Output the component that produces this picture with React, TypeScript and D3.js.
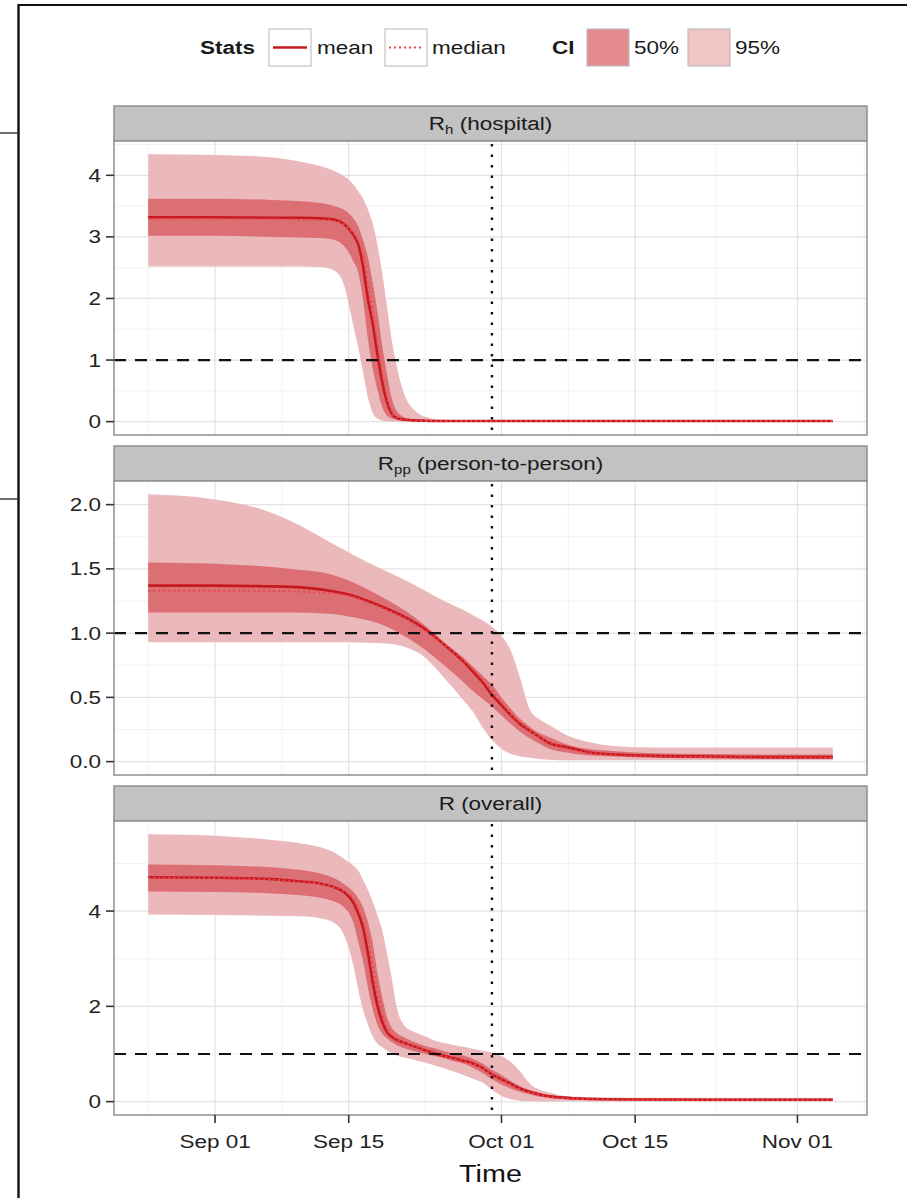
import React from "react";
import * as d3 from "d3";

// ---------- data ----------
const ORIGIN = Date.UTC(2014, 8, 1); // Sep 01
const toDate = (d: number) => new Date(ORIGIN + d * 864e5);

const xTickDays = [0, 14, 30, 44, 61];
const xTickLabels = ["Sep 01", "Sep 15", "Oct 01", "Oct 15", "Nov 01"];
const xMinorDays = [-7, 7, 22, 37, 52.5, 68];
const vlineDay = 29;
const hlineValue = 1;

// Panel 1: R_h (hospital)
const rhDays = [-7, 0, 6, 9, 11, 12.5, 13.5, 14.5, 15, 15.5, 16, 16.5, 17, 17.5, 18, 18.5, 19, 19.5, 20, 21, 22, 24, 28, 35, 50, 64.7];
const rhHi95 = [4.34, 4.33, 4.29, 4.22, 4.15, 4.07, 3.99, 3.85, 3.74, 3.62, 3.45, 3.22, 2.88, 2.42, 1.88, 1.33, 0.92, 0.6, 0.38, 0.17, 0.08, 0.03, 0.015, 0.01, 0.01, 0.01];
const rhLo95 = [2.52, 2.52, 2.52, 2.52, 2.51, 2.45, 2.22, 1.55, 1.2, 0.8, 0.4, 0.15, 0.05, 0.02, 0.005, 0, 0, 0, 0, 0, 0, 0, 0, 0, 0, 0];
const rhHi50 = [3.62, 3.62, 3.6, 3.58, 3.55, 3.5, 3.44, 3.3, 3.17, 2.95, 2.68, 2.27, 1.8, 1.25, 0.78, 0.38, 0.18, 0.1, 0.06, 0.03, 0.02, 0.015, 0.01, 0.01, 0.01, 0.01];
const rhLo50 = [3.02, 3.02, 3.0, 2.99, 2.98, 2.95, 2.85, 2.6, 2.42, 1.97, 1.35, 0.88, 0.52, 0.24, 0.1, 0.05, 0.03, 0.02, 0.01, 0.005, 0.005, 0.005, 0.005, 0.005, 0.005, 0.005];
const rhMean = [3.32, 3.32, 3.31, 3.31, 3.3, 3.28, 3.21, 3.03, 2.88, 2.52, 2.0, 1.6, 1.1, 0.65, 0.32, 0.13, 0.06, 0.04, 0.03, 0.02, 0.015, 0.01, 0.01, 0.01, 0.01, 0.01];
const rhMedian = [3.29, 3.29, 3.29, 3.28, 3.28, 3.26, 3.2, 3.05, 2.93, 2.7, 2.25, 1.8, 1.3, 0.8, 0.4, 0.15, 0.06, 0.03, 0.02, 0.01, 0.01, 0.01, 0.01, 0.01, 0.01, 0.01];

// Panel 2: R_pp (person-to-person)
const rppDays = [-7, 0, 5, 8, 12, 14, 16, 18, 20, 22, 24, 26, 27, 28, 29, 30, 31, 32, 33, 34, 35, 37, 39, 42, 46, 52, 58, 64.7];
const rppHi95 = [2.08, 2.04, 1.96, 1.87, 1.71, 1.63, 1.55, 1.48, 1.41, 1.33, 1.25, 1.18, 1.14, 1.1, 1.05, 0.98, 0.86, 0.64, 0.4, 0.33, 0.285, 0.2, 0.155, 0.12, 0.11, 0.11, 0.11, 0.11];
const rppLo95 = [0.93, 0.93, 0.93, 0.93, 0.93, 0.93, 0.925, 0.92, 0.89, 0.81, 0.65, 0.48, 0.39, 0.27, 0.17, 0.1, 0.06, 0.04, 0.03, 0.02, 0.015, 0.01, 0.01, 0.01, 0.01, 0.01, 0.01, 0.01];
const rppHi50 = [1.55, 1.54, 1.52, 1.5, 1.46, 1.41, 1.34, 1.26, 1.17, 1.06, 0.93, 0.81, 0.74, 0.67, 0.6, 0.5, 0.41, 0.33, 0.27, 0.22, 0.19, 0.13, 0.1, 0.08, 0.065, 0.06, 0.055, 0.055];
const rppLo50 = [1.16, 1.16, 1.16, 1.16, 1.15, 1.13, 1.1, 1.05, 0.97, 0.87, 0.75, 0.62, 0.55, 0.49, 0.43, 0.36, 0.29, 0.23, 0.18, 0.14, 0.1, 0.07, 0.05, 0.04, 0.03, 0.025, 0.02, 0.02];
const rppMean = [1.37, 1.37, 1.365, 1.36, 1.33, 1.3, 1.25, 1.19, 1.12, 1.03, 0.91, 0.78, 0.7, 0.62, 0.52, 0.44, 0.36, 0.29, 0.24, 0.19, 0.145, 0.11, 0.075, 0.055, 0.045, 0.04, 0.035, 0.035];
const rppMedian = [1.33, 1.33, 1.33, 1.325, 1.31, 1.29, 1.24, 1.18, 1.11, 1.02, 0.91, 0.79, 0.72, 0.64, 0.55, 0.46, 0.37, 0.3, 0.24, 0.19, 0.15, 0.1, 0.07, 0.05, 0.04, 0.035, 0.03, 0.03];

// Panel 3: R (overall)
const rDays = [-7, 0, 6, 9, 11, 12.5, 13.5, 14.5, 15, 15.5, 16, 16.5, 17, 17.5, 18, 18.5, 19, 20, 21, 22, 23, 24, 25, 26, 27, 28, 29, 30, 31, 32, 33, 34, 35, 36, 38, 41, 45, 52, 64.7];
const rHi95 = [5.61, 5.58, 5.49, 5.42, 5.34, 5.23, 5.1, 4.95, 4.85, 4.65, 4.45, 4.2, 3.92, 3.6, 3.12, 2.6, 2.0, 1.56, 1.45, 1.37, 1.28, 1.23, 1.19, 1.15, 1.11, 1.07, 1.03, 0.96, 0.83, 0.62, 0.37, 0.25, 0.19, 0.14, 0.1, 0.085, 0.08, 0.08, 0.08];
const rLo95 = [3.93, 3.92, 3.9, 3.89, 3.85, 3.75, 3.5, 2.85, 2.35, 1.93, 1.62, 1.37, 1.22, 1.14, 1.07, 1.02, 0.97, 0.92, 0.87, 0.82, 0.76, 0.7, 0.63, 0.56, 0.48, 0.4, 0.25, 0.12, 0.05, 0.02, 0.01, 0.01, 0.01, 0.01, 0.01, 0.01, 0.01, 0.01, 0.01];
const rHi50 = [4.98, 4.96, 4.92, 4.86, 4.79, 4.69, 4.57, 4.4, 4.27, 4.08, 3.78, 3.35, 2.71, 2.2, 1.78, 1.55, 1.44, 1.33, 1.24, 1.17, 1.12, 1.06, 1.01, 0.97, 0.9, 0.8, 0.67, 0.56, 0.43, 0.32, 0.24, 0.18, 0.14, 0.12, 0.09, 0.07, 0.06, 0.06, 0.06];
const rLo50 = [4.41, 4.4, 4.37, 4.33, 4.28, 4.2, 4.08, 3.75, 3.35, 2.95, 2.4, 1.95, 1.62, 1.43, 1.33, 1.25, 1.19, 1.11, 1.05, 1.0, 0.96, 0.91, 0.85, 0.8, 0.71, 0.6, 0.47, 0.36, 0.27, 0.2, 0.15, 0.1, 0.08, 0.06, 0.045, 0.035, 0.03, 0.025, 0.025];
const rMean = [4.71, 4.7, 4.67, 4.62, 4.58, 4.5, 4.4, 4.17, 3.95, 3.65, 3.13, 2.52, 2.02, 1.68, 1.46, 1.36, 1.3, 1.22, 1.15, 1.08, 1.01, 0.96, 0.91, 0.86, 0.8, 0.71, 0.57, 0.47, 0.37, 0.27, 0.2, 0.15, 0.11, 0.09, 0.065, 0.05, 0.045, 0.04, 0.04];
const rMedian = [4.7, 4.69, 4.66, 4.61, 4.57, 4.5, 4.42, 4.25, 4.05, 3.8, 3.4, 2.85, 2.3, 1.85, 1.55, 1.4, 1.32, 1.22, 1.15, 1.08, 1.0, 0.95, 0.9, 0.85, 0.79, 0.7, 0.56, 0.46, 0.36, 0.26, 0.19, 0.14, 0.1, 0.08, 0.06, 0.045, 0.04, 0.035, 0.035];

const y1Ticks = [0, 1, 2, 3, 4];
const y1Labels = ["0", "1", "2", "3", "4"];
const y1Minor = [0.5, 1.5, 2.5, 3.5, 4.5];
const y2Ticks = [0, 0.5, 1, 1.5, 2];
const y2Labels = ["0.0", "0.5", "1.0", "1.5", "2.0"];
const y2Minor = [0.25, 0.75, 1.25, 1.75];
const y3Ticks = [0, 2, 4];
const y3Labels = ["0", "2", "4"];
const y3Minor = [1, 3, 5];

const legendStats = ["mean", "median"];
const legendCI = ["50%", "95%"];

// ---------- style ----------
const FONT = "Liberation Sans, Arial, Helvetica, sans-serif";
const SX = 1.25;
const C95 = "#ebb8bb";
const C50 = "#dc6f74";
const CMEAN = "#c8181f";
const CMED = "#e8474c";
const PANEL_BORDER = "#8f8f8f";
const STRIP_FILL = "#c2c2c2";
const GRID_MAJOR = "#e2e2e2";
const GRID_MINOR = "#f1f1f1";

const W = 907;
const H = 1198;
const PL = 114;
const PR = 867;
const STRIP_H = 35;
const PLOT_H = 294;
const PANEL_STEP = 340;
const TOP0 = 106;

type PanelDef = {
  key: string;
  title: React.ReactNode;
  days: number[];
  hi95: number[];
  lo95: number[];
  hi50: number[];
  lo50: number[];
  mean: number[];
  median: number[];
  ticks: number[];
  labels: string[];
  minor: number[];
};

const panels: PanelDef[] = [
  {
    key: "rh",
    title: (
      <>
        R<tspan fontSize="12" dy="4">h</tspan>
        <tspan dy="-4"> (hospital)</tspan>
      </>
    ),
    days: rhDays, hi95: rhHi95, lo95: rhLo95, hi50: rhHi50, lo50: rhLo50, mean: rhMean, median: rhMedian,
    ticks: y1Ticks, labels: y1Labels, minor: y1Minor,
  },
  {
    key: "rpp",
    title: (
      <>
        R<tspan fontSize="12" dy="4">pp</tspan>
        <tspan dy="-4"> (person-to-person)</tspan>
      </>
    ),
    days: rppDays, hi95: rppHi95, lo95: rppLo95, hi50: rppHi50, lo50: rppLo50, mean: rppMean, median: rppMedian,
    ticks: y2Ticks, labels: y2Labels, minor: y2Minor,
  },
  {
    key: "r",
    title: <>R (overall)</>,
    days: rDays, hi95: rHi95, lo95: rLo95, hi50: rHi50, lo50: rLo50, mean: rMean, median: rMedian,
    ticks: y3Ticks, labels: y3Labels, minor: y3Minor,
  },
];

// x scale shared (5% expansion of data range)
const allDays = [...rhDays, ...rppDays, ...rDays];
const dMin = d3.min(allDays) as number;
const dMax = d3.max(allDays) as number;
const dPad = (dMax - dMin) * 0.05;
const x = d3.scaleUtc().domain([toDate(dMin - dPad), toDate(dMax + dPad)]).range([PL, PR]);

function T(props: {
  x: number; y: number; size: number; anchor?: string; weight?: string | number; fill?: string; children: React.ReactNode;
}) {
  const { x: tx, y: ty, size, anchor = "start", weight = "normal", fill = "#1a1a1a", children } = props;
  return (
    <text
      transform={`translate(${tx},${ty}) scale(${SX},1)`}
      textAnchor={anchor as any}
      fontSize={size}
      fontWeight={weight}
      fontFamily={FONT}
      fill={fill}
    >
      {children}
    </text>
  );
}

function Panel({ p, index }: { p: PanelDef; index: number }) {
  const top = TOP0 + index * PANEL_STEP;
  const pTop = top + STRIP_H;
  const pBot = pTop + PLOT_H;
  const vMax = d3.max(p.hi95) as number;
  const vMin = Math.min(0, d3.min(p.lo95) as number);
  const pad = (vMax - vMin) * 0.05;
  const y = d3.scaleLinear().domain([vMin - pad, vMax + pad]).range([pBot, pTop]);

  const xs = (i: number) => x(toDate(p.days[i]));
  const area = (lo: number[], hi: number[]) =>
    d3.area<number>()
      .x((_, i) => xs(i))
      .y0((_, i) => y(lo[i]))
      .y1((_, i) => y(hi[i]))
      .curve(d3.curveMonotoneX)(p.days) || "";
  const line = (v: number[]) =>
    d3.line<number>().x((_, i) => xs(i)).y((_, i) => y(v[i])).curve(d3.curveMonotoneX)(p.days) || "";

  const isLast = index === panels.length - 1;
  const vx = x(toDate(vlineDay));

  return (
    <g>
      {/* strip */}
      <rect x={PL} y={top} width={PR - PL} height={STRIP_H} fill={STRIP_FILL} stroke={PANEL_BORDER} strokeWidth={1.5} />
      <T x={(PL + PR) / 2} y={top + 24} size={18} anchor="middle">{p.title}</T>
      {/* panel background */}
      <rect x={PL} y={pTop} width={PR - PL} height={PLOT_H} fill="#ffffff" />
      {/* grid */}
      {p.minor.map((v) => y(v) > pTop && y(v) < pBot ? (
        <line key={"ym" + v} x1={PL} x2={PR} y1={y(v)} y2={y(v)} stroke={GRID_MINOR} strokeWidth={1} />
      ) : null)}
      {xMinorDays.map((d) => x(toDate(d)) > PL && x(toDate(d)) < PR ? (
        <line key={"xm" + d} x1={x(toDate(d))} x2={x(toDate(d))} y1={pTop} y2={pBot} stroke={GRID_MINOR} strokeWidth={1} />
      ) : null)}
      {p.ticks.map((v) => (
        <line key={"yg" + v} x1={PL} x2={PR} y1={y(v)} y2={y(v)} stroke={GRID_MAJOR} strokeWidth={1.2} />
      ))}
      {xTickDays.map((d) => (
        <line key={"xg" + d} x1={x(toDate(d))} x2={x(toDate(d))} y1={pTop} y2={pBot} stroke={GRID_MAJOR} strokeWidth={1.2} />
      ))}
      {/* ribbons */}
      <path d={area(p.lo95, p.hi95)} fill={C95} />
      <path d={area(p.lo50, p.hi50)} fill={C50} />
      {/* lines */}
      <path d={line(p.mean)} fill="none" stroke={CMEAN} strokeWidth={2.6} />
      <path d={line(p.median)} fill="none" stroke={CMED} strokeWidth={2} strokeDasharray="2,3" />
      {/* reference lines */}
      <line x1={PL} x2={PR} y1={y(hlineValue)} y2={y(hlineValue)} stroke="#111" strokeWidth={2.2} strokeDasharray="12,9" />
      <line x1={vx} x2={vx} y1={pTop + 3} y2={pBot} stroke="#111" strokeWidth={2.4} strokeDasharray="2.4,8.1" />
      {/* border */}
      <rect x={PL} y={pTop} width={PR - PL} height={PLOT_H} fill="none" stroke={PANEL_BORDER} strokeWidth={1.5} />
      {/* y axis */}
      {p.ticks.map((v, i) => (
        <g key={"yt" + v}>
          <line x1={PL - 8} x2={PL} y1={y(v)} y2={y(v)} stroke="#333" strokeWidth={1.6} />
          <T x={PL - 13} y={y(v) + 6.5} size={18} anchor="end" fill="#222">{p.labels[i]}</T>
        </g>
      ))}
      {/* x axis */}
      {isLast && xTickDays.map((d, i) => (
        <g key={"xt" + d}>
          <line x1={x(toDate(d))} x2={x(toDate(d))} y1={pBot} y2={pBot + 8} stroke="#333" strokeWidth={1.6} />
          <T x={x(toDate(d))} y={pBot + 33} size={18} anchor="middle" fill="#222">{xTickLabels[i]}</T>
        </g>
      ))}
    </g>
  );
}

function Legend() {
  const boxY = 29;
  const boxH = 37;
  const cy = boxY + boxH / 2;
  const ty = cy + 6.5;
  return (
    <g>
      <T x={200} y={ty} size={18} weight="bold">Stats</T>
      <rect x={269} y={boxY} width={42} height={boxH} fill="#fff" stroke="#c4c4c4" strokeWidth={1.2} />
      <line x1={273} x2={307} y1={cy} y2={cy} stroke={CMEAN} strokeWidth={2.6} />
      <T x={317} y={ty} size={18}>{legendStats[0]}</T>
      <rect x={385} y={boxY} width={42} height={boxH} fill="#fff" stroke="#c4c4c4" strokeWidth={1.2} />
      <line x1={389} x2={423} y1={cy} y2={cy} stroke={CMED} strokeWidth={2} strokeDasharray="2,3" />
      <T x={432} y={ty} size={18}>{legendStats[1]}</T>
      <T x={552} y={ty} size={18} weight="bold">CI</T>
      <rect x={587} y={boxY} width={42} height={boxH} fill="#e38b8f" stroke="#bdbdbd" strokeWidth={1.2} />
      <T x={634} y={ty} size={18}>{legendCI[0]}</T>
      <rect x={688} y={boxY} width={42} height={boxH} fill="#f1c4c6" stroke="#bdbdbd" strokeWidth={1.2} />
      <T x={735} y={ty} size={18}>{legendCI[1]}</T>
    </g>
  );
}

export default function App() {
  return (
    <svg
      width={W}
      height={H}
      viewBox={`0 0 ${W} ${H}`}
      style={{ position: "absolute", left: 0, top: 0, background: "#fff" }}
    >
      <rect x={0} y={0} width={W} height={H} fill="#fff" />
      {/* outer frame */}
      <line x1={18.5} x2={18.5} y1={4} y2={H} stroke="#111" strokeWidth={2.4} />
      <line x1={18} x2={W} y1={5} y2={5} stroke="#111" strokeWidth={2} />
      <line x1={0} x2={18} y1={133} y2={133} stroke="#333" strokeWidth={1.4} />
      <line x1={0} x2={18} y1={499} y2={499} stroke="#333" strokeWidth={1.4} />
      <Legend />
      {panels.map((p, i) => (
        <Panel key={p.key} p={p} index={i} />
      ))}
      <T x={(PL + PR) / 2} y={1182} size={23} anchor="middle" fill="#111">Time</T>
    </svg>
  );
}
